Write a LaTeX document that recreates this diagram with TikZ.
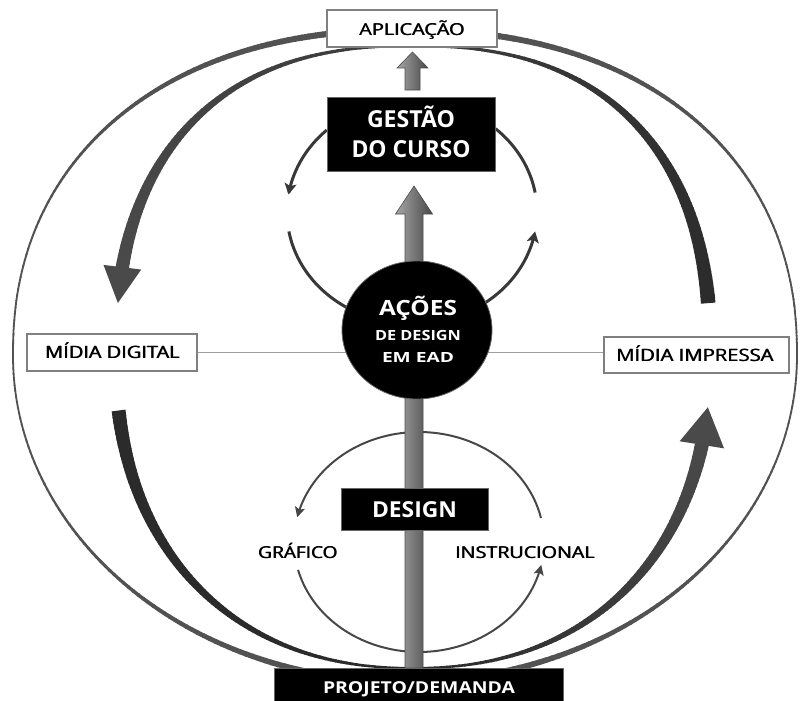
\documentclass[tikz,border=0pt]{standalone}
\usepackage{fontspec}
\setmainfont{Open Sans}
\newcommand\semib[1]{\makebox[0pt][l]{#1}\hspace{0.6pt}#1}
\usetikzlibrary{shapes.geometric,calc,arrows.meta}
\pgfdeclarelayer{bg}
\pgfsetlayers{bg,main}
\pgfmathdeclarefunction{spow}{2}{\pgfmathparse{(((#1)<0)?-1:1)*pow(max(abs(#1),0.00001),#2)}}
\newcommand\fw[2]{\resizebox{#1pt}{\height}{#2}}
\tikzset{
  wbox/.style={rectangle, draw=black!50, line width=2pt, fill=white, inner sep=0pt},
  bbox/.style={rectangle, fill=black, draw=black!60, line width=0.8pt, inner sep=0pt},
  tx/.style={inner sep=0pt, anchor=base},
  wtx/.style={tx, text=white, font=\bfseries},
  ktx/.style={tx, text=black},
  smallarc/.style={line width=3pt, draw=black!78},
  tinyarc/.style={line width=2pt, draw=black!72},
  blockarrow/.style={left color=black!35, right color=black!72, draw=black!70, line width=0.6pt},
}
\begin{document}
\begin{tikzpicture}[x=1pt,y=-1pt]
\useasboundingbox (0,0) rectangle (800,701);

% ---------- nodes ----------
\node[wbox, minimum width=170pt, minimum height=37pt] (apl) at (412,28.5) {};
\node[ktx] (aplt) at (412,35) {\fontsize{16.4}{18}\selectfont\fw{106}{\semib{APLICAÇÃO}}};

\node[bbox, minimum width=168pt, minimum height=74pt] (gest) at (411,134) {};
\node[wtx] (gest1) at (411,127) {\fontsize{23.4}{26}\selectfont\bfseries\fw{88}{GESTÃO}};
\node[wtx] (gest2) at (411,157) {\fontsize{23.4}{26}\selectfont\bfseries\fw{119}{DO CURSO}};

\node[ellipse, fill=black, draw=black!60, line width=0.8pt, minimum width=150pt, minimum height=138pt, inner sep=0pt] (acoes) at (417,330) {};
\node[wtx] (ac1) at (418,315) {\fontsize{21}{24}\selectfont\bfseries\fw{78}{AÇÕES}};
\node[wtx] (ac2) at (418,340) {\fontsize{14}{16}\selectfont\bfseries\fw{86}{DE DESIGN}};
\node[wtx] (ac3) at (418,362) {\fontsize{14}{16}\selectfont\bfseries\fw{72}{EM EAD}};

\node[wbox, minimum width=170pt, minimum height=37pt] (mdig) at (112,352.5) {};
\node[ktx] (mdigt) at (112.5,358) {\fontsize{17}{19}\selectfont\fw{135}{\semib{MÍDIA DIGITAL}}};

\node[wbox, minimum width=185pt, minimum height=36pt] (mimp) at (696.5,355) {};
\node[ktx] (mimpt) at (695,361) {\fontsize{17}{19}\selectfont\fw{158}{\semib{MÍDIA IMPRESSA}}};

\node[bbox, minimum width=147pt, minimum height=42pt] (des) at (414.5,509) {};
\node[wtx] (dest) at (414.5,517) {\fontsize{22}{24}\selectfont\bfseries\fw{85}{DESIGN}};

\node[bbox, minimum width=289pt, minimum height=36pt] (proj) at (419,686) {};
\node[wtx] (projt) at (419,693) {\fontsize{16.4}{18}\selectfont\bfseries\fw{192}{PROJETO/DEMANDA}};

\node[ktx] (graf) at (298,558) {\fontsize{16.4}{18}\selectfont\fw{80}{\semib{GRÁFICO}}};
\node[ktx] (inst) at (525,558) {\fontsize{16.4}{18}\selectfont\fw{140}{\semib{INSTRUCIONAL}}};

\coordinate (vtip) at (414,186);
\coordinate (vbase) at (414,668);
\coordinate (stip) at (412.5,52);
\coordinate (sbase) at (412.5,90);

\begin{pgfonlayer}{bg}
% ---------- outer ellipse (variable width) ----------
\foreach \a in {0,...,359} {
  \pgfmathsetmacro\ex{((\a<180)?0.9:1)}
  \pgfmathsetmacro\xa{405+392*spow(cos(\a),\ex)}
  \pgfmathsetmacro\ya{356-326*spow(sin(\a),\ex)}
  \pgfmathsetmacro\xb{405+392*spow(cos(\a+1.2),\ex)}
  \pgfmathsetmacro\yb{356-326*spow(sin(\a+1.2),\ex)}
  \pgfmathsetmacro\lw{1.8+4.5*pow(abs(sin(\a+0.6)),3)}
  \draw[line width=\lw pt, black!68] (\xa,\ya) -- (\xb,\yb);
}
% ---------- inner top arc ----------
\foreach \a in {7,...,167} {
  \pgfmathsetmacro\xa{413+297*spow(cos(\a),0.833)}
  \pgfmathsetmacro\ya{357-311*spow(sin(\a),0.833)}
  \pgfmathsetmacro\xb{413+297*spow(cos(\a+1.2),0.833)}
  \pgfmathsetmacro\yb{357-311*spow(sin(\a+1.2),0.833)}
  \pgfmathsetmacro\lw{2.5+11.5*pow(abs(\a+0.6-90)/80,1.5)}
  \pgfmathsetmacro\mycol{83-12*(\a-7)/160}
  \draw[line width=\lw pt, black!\mycol] (\xa,\ya) -- (\xb,\yb);
}
\pgfmathsetmacro\Bx{413+297*spow(cos(167),0.833)}
\pgfmathsetmacro\By{357-311*spow(sin(167),0.833)}
\pgfmathsetmacro\Tx{413+297*spow(cos(173.2),0.833)}
\pgfmathsetmacro\Ty{357-311*spow(sin(173.2),0.833)}
\coordinate (h1b) at (\Bx,\By);
\coordinate (h1t) at (\Tx,\Ty);
\fill[black!71] ($(h1b)!19pt!90:(h1t)$) -- ($(h1b)!36pt!(h1t)$) -- ($(h1b)!19pt!-90:(h1t)$) -- cycle;
% ---------- inner bottom-left arc ----------
\foreach \a in {188,...,269} {
  \pgfmathsetmacro\xa{413+297*spow(cos(\a),0.9)}
  \pgfmathsetmacro\ya{357-311*spow(sin(\a),0.9)}
  \pgfmathsetmacro\xb{413+297*spow(cos(\a+1.2),0.9)}
  \pgfmathsetmacro\yb{357-311*spow(sin(\a+1.2),0.9)}
  \pgfmathsetmacro\lw{2+12*pow(abs(270-\a-0.6)/82,1.3)}
  \draw[line width=\lw pt, black!83] (\xa,\ya) -- (\xb,\yb);
}
% ---------- inner bottom-right arc ----------
\foreach \a in {271,...,346} {
  \pgfmathsetmacro\xa{413+297*spow(cos(\a),0.9)}
  \pgfmathsetmacro\ya{357-311*spow(sin(\a),0.9)}
  \pgfmathsetmacro\xb{413+297*spow(cos(\a+1.2),0.9)}
  \pgfmathsetmacro\yb{357-311*spow(sin(\a+1.2),0.9)}
  \pgfmathsetmacro\lw{2+12*pow(abs(\a+0.6-270)/76,1.3)}
  \pgfmathsetmacro\mycol{83-12*(\a-271)/75}
  \draw[line width=\lw pt, black!\mycol] (\xa,\ya) -- (\xb,\yb);
}
\pgfmathsetmacro\Bx{413+297*spow(cos(345.8),0.9)}
\pgfmathsetmacro\By{357-311*spow(sin(345.8),0.9)}
\pgfmathsetmacro\Tx{413+297*spow(cos(352.3),0.9)}
\pgfmathsetmacro\Ty{357-311*spow(sin(352.3),0.9)}
\coordinate (h2b) at (\Bx,\By);
\coordinate (h2t) at (\Tx,\Ty);
\fill[black!71] ($(h2b)!22.5pt!90:(h2t)$) -- ($(h2b)!38pt!(h2t)$) -- ($(h2b)!22.5pt!-90:(h2t)$) -- cycle;

% ---------- horizontal connector ----------
\draw[line width=1.3pt, black!38] (mdig.east) -- (mdig.east -| mimp.west);

% ---------- small circular arrows around GESTAO ----------
\draw[smallarc, -{Stealth[length=11pt,width=12pt,inset=2.5pt]}] plot[domain=133:171, samples=40] ({412+125*cos(\x)},{212-112*sin(\x)});
\draw[smallarc] plot[domain=48:10, samples=40] ({412+125*cos(\x)},{212-112*sin(\x)});
\draw[smallarc] plot[domain=190:245, samples=40] ({412+125*cos(\x)},{212-112*sin(\x)});
\draw[smallarc, -{Stealth[length=11pt,width=12pt,inset=2.5pt]}] plot[domain=295:350, samples=40] ({412+125*cos(\x)},{212-112*sin(\x)});

% ---------- small circular arrows around DESIGN ----------
\draw[tinyarc, -{Stealth[length=10pt,width=10pt,inset=2pt]}] plot[domain=12.6:167, samples=80] ({419+125*cos(\x)},{542-110*sin(\x)});
\draw[tinyarc, -{Stealth[length=10pt,width=10pt,inset=2pt]}] plot[domain=194.7:348, samples=80] ({419+125*cos(\x)},{542-110*sin(\x)});

% ---------- block arrows ----------
\shade[blockarrow] ($(vbase)+(-9,0)$) -- ($(vtip)+(-9,28)$) -- ($(vtip)+(-18.5,28)$) -- (vtip)
  -- ($(vtip)+(18.5,28)$) -- ($(vtip)+(9,28)$) -- ($(vbase)+(9,0)$) -- cycle;
\shade[blockarrow] ($(sbase)+(-7.5,0)$) -- ($(stip)+(-7.5,16)$) -- ($(stip)+(-15.5,16)$) -- (stip)
  -- ($(stip)+(15.5,16)$) -- ($(stip)+(7.5,16)$) -- ($(sbase)+(7.5,0)$) -- cycle;
\end{pgfonlayer}
\end{tikzpicture}
\end{document}
